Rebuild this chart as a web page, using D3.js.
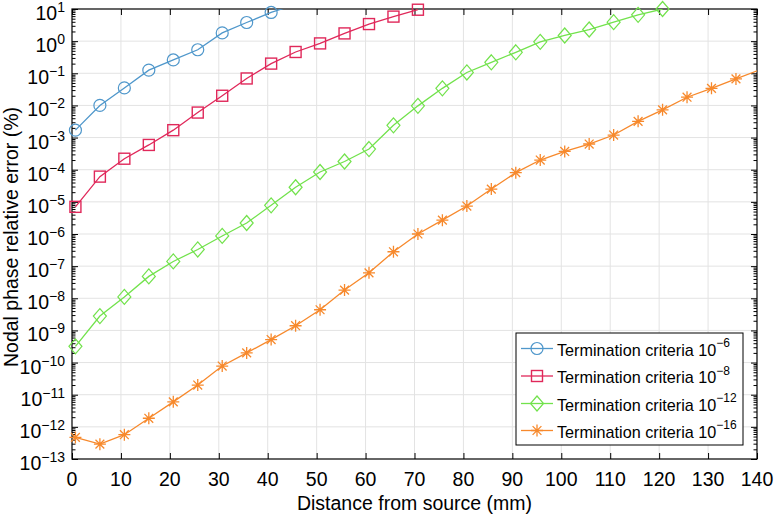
<!DOCTYPE html>
<html><head><meta charset="utf-8">
<script src="https://cdn.jsdelivr.net/npm/d3@7"></script>
<style>
html,body{margin:0;padding:0;background:#fff;}
svg{display:block;font-family:"Liberation Sans",Arial,Helvetica,sans-serif;}
</style></head>
<body><svg id="chart" width="776" height="516"></svg>
<script>
// ---- data ----
const distance = [0.7,5.7,10.7,15.7,20.7,25.7,30.7,35.7,40.7,45.7,50.7,55.7,60.7,65.7,70.7,75.7,80.7,85.7,90.7,95.7,100.7,105.7,110.7,115.7,120.7,125.7,130.7,135.7,140.7];
const err1e6  = [1.7e-3,1.0e-2,3.5e-2,0.125,0.26,0.54,1.8,3.8,7.8,14];
const err1e8  = [7e-6,6.1e-5,2.2e-4,5.9e-4,1.7e-3,6.0e-3,2.0e-2,6.9e-2,0.20,0.46,0.85,1.74,3.4,5.8,9.5];
const err1e12 = [3.2e-10,2.8e-9,1.1e-8,4.8e-8,1.4e-7,3.3e-7,8.7e-7,2.2e-6,7.8e-6,2.85e-5,8.5e-5,1.8e-4,4.4e-4,2.4e-3,9.7e-3,3.4e-2,0.106,0.22,0.45,0.95,1.5,2.3,3.9,6.6,10];
const err1e16 = [4.7e-13,2.9e-13,5.7e-13,1.85e-12,6.0e-12,2.0e-11,7.8e-11,2.0e-10,5.2e-10,1.4e-9,4.4e-9,1.8e-8,6.2e-8,2.8e-7,1.0e-6,2.7e-6,7.4e-6,2.5e-5,8.1e-5,2.0e-4,3.7e-4,6.3e-4,1.2e-3,3.2e-3,7.3e-3,1.8e-2,3.4e-2,6.7e-2,0.13];
const seriesNames = ["6","8","12","16"];
const seriesValues = [err1e6, err1e8, err1e12, err1e16];
const seriesColors = ["#4f97cb","#e0285a","#72e24c","#f7892c"];
const seriesMarkers = ["circle","square","diamond","asterisk"];
const xTicks = [0,10,20,30,40,50,60,70,80,90,100,110,120,130,140];
const yExponents = [-13,-12,-11,-10,-9,-8,-7,-6,-5,-4,-3,-2,-1,0,1];
const xTitle = "Distance from source (mm)";
const yTitle = "Nodal phase relative error (%)";
const legendPrefix = "Termination criteria 10";

// ---- layout ----
const L=72, R=757, T=9, B=459;
const svg = d3.select("#chart");
const x = d3.scaleLinear().domain([0,140]).range([L,R]);
const y = d3.scaleLog().domain([1e-13,10]).range([B,T]);

svg.append("defs").append("clipPath").attr("id","clip")
  .append("rect").attr("x",L).attr("y",T).attr("width",R-L).attr("height",B-T);

// grid
const grid = svg.append("g").attr("stroke","#e3e3e3").attr("stroke-width",1);
xTicks.forEach(t=>{ if(t>0&&t<140) grid.append("line").attr("x1",x(t)).attr("x2",x(t)).attr("y1",T).attr("y2",B); });
yExponents.forEach(e=>{ const v=Math.pow(10,e); if(e>-13&&e<1) grid.append("line").attr("x1",L).attr("x2",R).attr("y1",y(v)).attr("y2",y(v)); });

// axes via d3 axis
const minorVals=[];
yExponents.forEach(e=>{ if(e<1){ for(let m=2;m<=9;m++) minorVals.push(m*Math.pow(10,e)); } });
const majorVals = yExponents.map(e=>Math.pow(10,e));

function styleAxis(g){ g.select(".domain").remove(); g.selectAll("line").attr("stroke","#000").attr("stroke-width",1); g.selectAll("text").remove(); }
svg.append("g").attr("transform",`translate(0,${B})`).call(d3.axisTop(x).tickValues(xTicks).tickSize(6)).call(styleAxis);
svg.append("g").attr("transform",`translate(0,${T})`).call(d3.axisBottom(x).tickValues(xTicks).tickSize(6)).call(styleAxis);
svg.append("g").attr("transform",`translate(${L},0)`).call(d3.axisRight(y).tickValues(majorVals).tickSize(6)).call(styleAxis);
svg.append("g").attr("transform",`translate(${L},0)`).call(d3.axisRight(y).tickValues(minorVals).tickSize(3.5)).call(styleAxis);
svg.append("g").attr("transform",`translate(${R},0)`).call(d3.axisLeft(y).tickValues(majorVals).tickSize(6)).call(styleAxis);
svg.append("g").attr("transform",`translate(${R},0)`).call(d3.axisLeft(y).tickValues(minorVals).tickSize(3.5)).call(styleAxis);

// box
svg.append("rect").attr("x",L).attr("y",T).attr("width",R-L).attr("height",B-T)
  .attr("fill","none").attr("stroke","#000").attr("stroke-width",1.2);

// tick labels
const tl = svg.append("g").attr("fill","#000");
xTicks.forEach(t=>{
  tl.append("text").attr("x",x(t)).attr("y",B+27).attr("text-anchor","middle").attr("font-size",19.5).text(t);
});
yExponents.forEach(e=>{
  const t = tl.append("text").attr("x",L-7).attr("y",y(Math.pow(10,e))+11).attr("text-anchor","end").attr("font-size",19.5);
  t.append("tspan").text("10");
  t.append("tspan").attr("dy",-8).attr("font-size",14).text(e<0?"\u2212"+(-e):String(e));
});

// titles
svg.append("text").attr("x",(L+R)/2).attr("y",510).attr("text-anchor","middle").attr("font-size",19.5).text(xTitle);
svg.append("text").attr("transform",`translate(18,237) rotate(-90)`).attr("text-anchor","middle").attr("font-size",19.5).text(yTitle);

// markers
function drawMarker(g,type,cx,cy,color){
  if(type==="circle") g.append("circle").attr("cx",cx).attr("cy",cy).attr("r",6).attr("fill","none").attr("stroke",color).attr("stroke-width",1.2);
  else if(type==="square") g.append("rect").attr("x",cx-5.5).attr("y",cy-5.5).attr("width",11).attr("height",11).attr("fill","none").attr("stroke",color).attr("stroke-width",1.4);
  else if(type==="diamond") g.append("path").attr("d",`M${cx},${cy-7.5}L${cx+6.5},${cy}L${cx},${cy+7.5}L${cx-6.5},${cy}Z`).attr("fill","none").attr("stroke",color).attr("stroke-width",1.2);
  else {
    const r=6, d=4.4;
    g.append("path").attr("d",`M${cx-r},${cy}L${cx+r},${cy}M${cx},${cy-r}L${cx},${cy+r}M${cx-d},${cy-d}L${cx+d},${cy+d}M${cx-d},${cy+d}L${cx+d},${cy-d}`)
      .attr("stroke",color).attr("stroke-width",1.3).attr("fill","none");
  }
}

const line = d3.line().x(d=>x(d[0])).y(d=>y(d[1]));
seriesValues.forEach((vals,i)=>{
  const pts = vals.map((v,j)=>[distance[j],v]);
  svg.append("path").attr("clip-path","url(#clip)").attr("d",line(pts)).attr("fill","none")
    .attr("stroke",seriesColors[i]).attr("stroke-width",1.3);
  const mg = svg.append("g");
  pts.forEach(p=>{ if(p[0]<=140 && p[1]<=10.01) drawMarker(mg,seriesMarkers[i],x(p[0]),y(p[1]),seriesColors[i]); });
});

// legend
const lg = svg.append("g");
lg.append("rect").attr("x",516).attr("y",333).attr("width",227).attr("height",112).attr("fill","#fff").attr("stroke","#000").attr("stroke-width",1);
const rowY=[348.5,376,403.5,430.5];
seriesNames.forEach((n,i)=>{
  lg.append("line").attr("x1",521).attr("x2",553).attr("y1",rowY[i]).attr("y2",rowY[i]).attr("stroke",seriesColors[i]).attr("stroke-width",1.3);
  drawMarker(lg,seriesMarkers[i],537,rowY[i],seriesColors[i]);
  const t = lg.append("text").attr("x",557).attr("y",rowY[i]+7).attr("font-size",16.2).attr("fill","#000");
  t.append("tspan").text(legendPrefix);
  t.append("tspan").attr("dy",-8.5).attr("font-size",12).text("\u2212"+n);
});
</script></body></html>
